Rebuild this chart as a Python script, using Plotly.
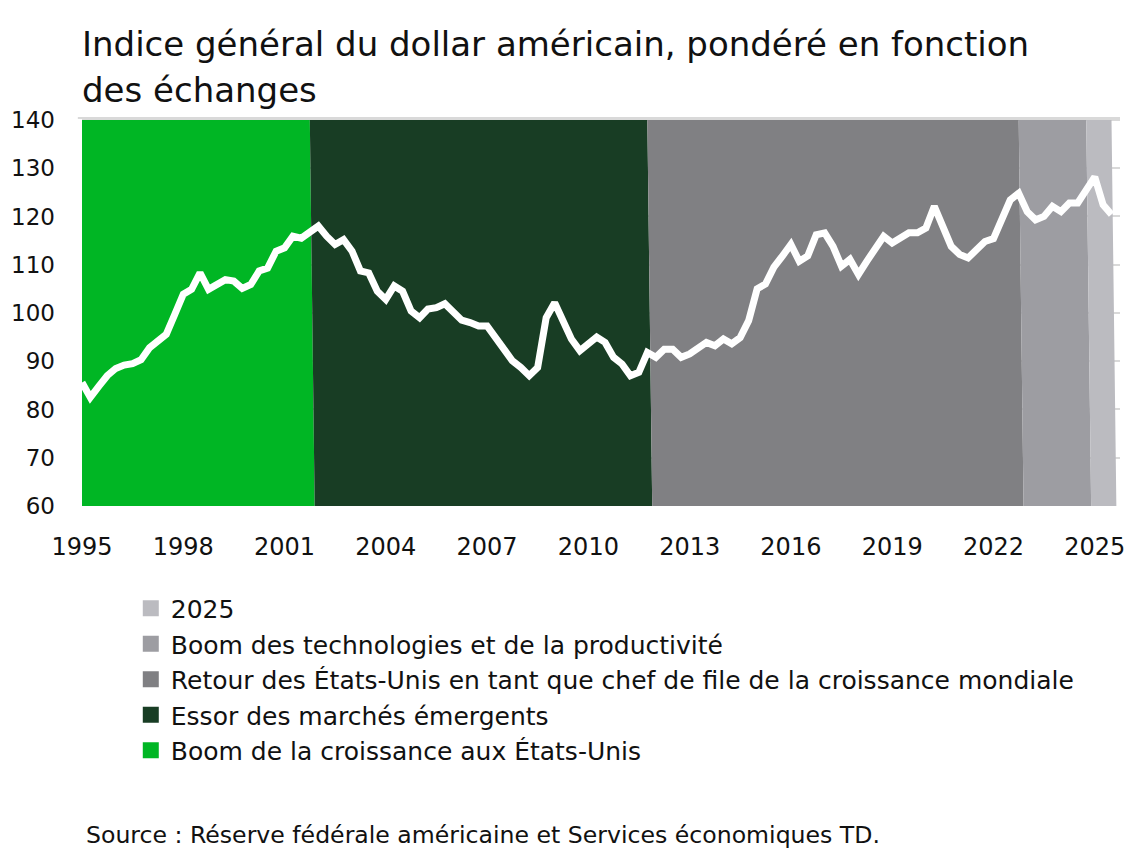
import pandas as pd
import plotly.graph_objects as go

# Trade-weighted broad USD index, quarterly from 1995 Q1
usd_index = [
    85.6, 82.5, 84.8, 87.0, 88.5, 89.2, 89.5, 90.3, 92.8, 94.0,
    95.6, 99.7, 103.9, 104.9, 108.3, 104.9, 105.9, 106.9, 106.6, 105.1,
    105.9, 108.7, 109.3, 112.8, 113.5, 115.9, 115.5, 116.6, 118.0, 115.9,
    114.2, 115.2, 112.8, 108.7, 108.3, 104.5, 102.8, 105.6, 104.5, 100.4,
    99.0, 100.8, 101.1, 101.9, 100.4, 98.5, 98.0, 97.3, 97.3, 94.9,
    92.8, 90.1, 88.7, 87.0, 88.7, 99.0, 102.1, 98.4, 94.6, 92.2,
    93.5, 95.0, 93.9, 90.8, 89.4, 87.0, 87.7, 91.8, 90.8, 92.5,
    92.5, 90.8, 91.5, 92.5, 93.9, 93.2, 94.6, 93.6, 94.9, 98.4,
    105.0, 106.0, 109.5, 111.8, 114.2, 110.7, 111.8, 116.2, 116.6, 113.8,
    109.7, 111.1, 108.0, 110.7, 113.5, 115.9, 114.5, 115.5, 116.6, 116.6,
    117.6, 122.1, 117.6, 113.8, 112.1, 111.4, 113.1, 114.8, 115.4, 119.0,
    123.4, 124.8, 121.0, 119.3, 120.0, 122.1, 121.0, 122.8, 122.8, 125.5,
    128.2, 122.4, 120.4,
]

# Regimes shaded behind the line
regime_names = [
    "Boom de la croissance aux États-Unis",
    "Essor des marchés émergents",
    "Retour des États-Unis en tant que chef de file de la croissance mondiale",
    "Boom des technologies et de la productivité",
    "2025",
]
regime_start = ["1995-01-01", "2002-01-01", "2012-01-01", "2023-01-01", "2025-01-01"]
regime_end = ["2001-10-01", "2011-10-01", "2022-10-01", "2024-10-01", "2025-07-01"]
regime_colors = ["#00B624", "#183D24", "#808083", "#9D9DA2", "#BBBBC0"]

tick_years = ["1995", "1998", "2001", "2004", "2007", "2010",
              "2013", "2016", "2019", "2022", "2025"]

y_min, y_max = 60, 140

# one extra quarter at the end so the last shaded band closes
quarters = pd.date_range("1995-01-01", periods=len(usd_index) + 1, freq="QS")
line_dates = quarters[:len(usd_index)]

FONT = "DejaVu Sans, Inter, sans-serif"
TXT = "#111111"

fig = go.Figure()

for name, start, end, color in zip(regime_names, regime_start, regime_end, regime_colors):
    band = [y_max if pd.Timestamp(start) <= q <= pd.Timestamp(end) else 0 for q in quarters]
    fig.add_trace(go.Scatter(
        x=quarters, y=band,
        mode="lines", line=dict(width=0, color=color),
        fillcolor=color, stackgroup="regimes",
        showlegend=False, hoverinfo="skip",
    ))

fig.add_trace(go.Scatter(
    x=line_dates, y=usd_index,
    mode="lines", line=dict(color="white", width=7),
    showlegend=False, name="Indice",
))

# legend entries as squares, listed top to bottom like the original
for i, (name, color) in enumerate(reversed(list(zip(regime_names, regime_colors)))):
    fig.add_trace(go.Scatter(
        x=[None], y=[None], mode="markers", name=name,
        marker=dict(symbol="square", size=16, color=color),
        legendgroup=f"g{i}",
    ))

fig.update_xaxes(
    type="date",
    range=[quarters[0], quarters[-1]],
    tickvals=[f"{y}-01-01" for y in tick_years],
    ticktext=tick_years,
    showgrid=False, zeroline=False, showline=False,
    ticks="", ticklabelstandoff=24, automargin=False,
    tickfont=dict(size=24, color=TXT),
)
fig.update_yaxes(
    range=[y_min, y_max + 0.4],
    tickvals=list(range(60, 141, 10)),
    showgrid=True, gridcolor="#D9D9D9", gridwidth=2,
    zeroline=False, showline=False,
    ticks="", ticklabelstandoff=26, automargin=False,
    tickfont=dict(size=23, color=TXT),
)

# thin grey rule along the top of the plot
fig.add_shape(type="line", xref="paper", yref="paper", x0=-0.004, x1=1, y0=1, y1=1,
              line=dict(color="#D9D9D9", width=2), layer="above")

fig.add_annotation(
    text="Indice général du dollar américain, pondéré en fonction",
    xref="paper", yref="paper", x=-0.002, y=1.19, xanchor="left", yanchor="middle",
    showarrow=False, font=dict(size=34, color=TXT),
)
fig.add_annotation(
    text="des échanges",
    xref="paper", yref="paper", x=-0.002, y=1.072, xanchor="left", yanchor="middle",
    showarrow=False, font=dict(size=34, color=TXT),
)
fig.add_annotation(
    text="Source : Réserve fédérale américaine et Services économiques TD.",
    xref="paper", yref="paper", x=0.002, y=-0.848, xanchor="left", yanchor="middle",
    showarrow=False, font=dict(size=23.6, color=TXT),
)

# page body adds an 8px margin, so the figure is 8px smaller
fig.update_layout(
    width=1131, height=842,
    margin=dict(l=74, r=19, t=110, b=344),
    paper_bgcolor="white", plot_bgcolor="white",
    font=dict(family=FONT, color=TXT),
    showlegend=True,
    legend=dict(
        x=0.047, y=-0.205, xanchor="left", yanchor="top",
        traceorder="normal", tracegroupgap=11,
        font=dict(size=25, color=TXT),
        bgcolor="rgba(0,0,0,0)",
    ),
    hovermode=False,
)

fig.write_html("out.html")
